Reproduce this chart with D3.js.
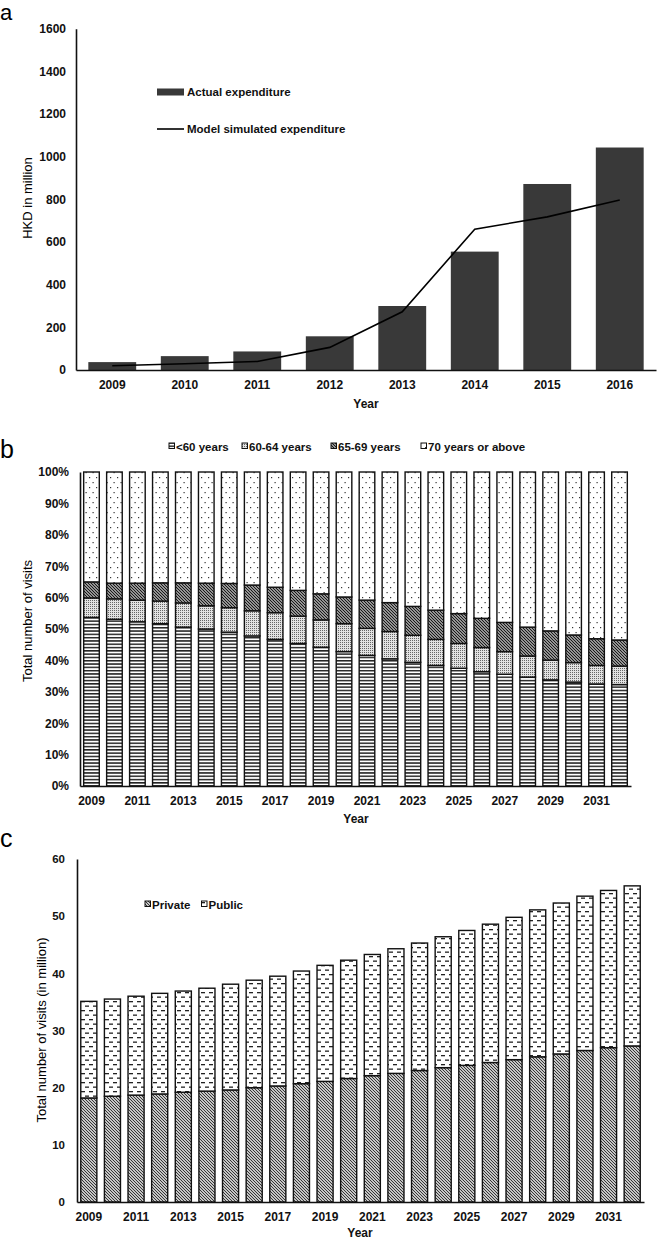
<!DOCTYPE html>
<html>
<head>
<meta charset="utf-8">
<script src="https://cdn.jsdelivr.net/npm/d3@7"></script>
<style>
  body { margin: 0; background: #fff; }
  svg { display: block; font-family: "Liberation Sans", Arial, sans-serif; }
  .tick text { font-weight: bold; fill: #111; }
  .lab { font-weight: bold; fill: #111; }
</style>
</head>
<body>
<div id="chart"></div>
<script>
// panel a
var yearsA = ["2009", "2010", "2011", "2012", "2013", "2014", "2015", "2016"];
var actualExp = [37, 65, 87, 158, 300, 555, 872, 1043];
var simulatedExp = [20, 29, 40, 106, 273, 660, 718, 797];
var ticksA = [0, 200, 400, 600, 800, 1000, 1200, 1400, 1600];

// panels b and c
var yearsBC = ["2009", "2010", "2011", "2012", "2013", "2014", "2015", "2016",
  "2017", "2018", "2019", "2020", "2021", "2022", "2023", "2024",
  "2025", "2026", "2027", "2028", "2029", "2030", "2031", "2032"];
var yearLabels = ["2009", "2011", "2013", "2015", "2017", "2019", "2021", "2023", "2025", "2027", "2029", "2031"];

var ageGroups = ["<60 years", "60-64 years", "65-69 years", "70 years or above"];
var under60 = [53.7, 53.1, 52.3, 51.7, 50.6, 50.0, 49.0, 47.8, 46.7, 45.4, 44.2, 42.8,
  41.6, 40.5, 39.4, 38.4, 37.5, 36.4, 35.6, 34.7, 33.8, 33.1, 32.5, 32.3];
var age60to64 = [6.2, 6.5, 6.9, 7.2, 7.7, 7.4, 7.8, 8.0, 8.5, 8.7, 8.7, 8.9,
  8.6, 8.7, 8.6, 8.3, 7.9, 7.7, 7.2, 6.7, 6.3, 6.2, 5.9, 5.9];
var age65to69 = [5.1, 5.0, 5.4, 5.8, 6.4, 7.2, 7.7, 8.2, 8.1, 8.2, 8.3, 8.5,
  9.0, 9.2, 9.2, 9.3, 9.5, 9.3, 9.3, 9.2, 9.3, 8.8, 8.5, 8.3];
var age70plus = [35.0, 35.4, 35.4, 35.3, 35.3, 35.4, 35.5, 36.0, 36.7, 37.7, 38.8, 39.8,
  40.8, 41.6, 42.8, 44.0, 45.1, 46.6, 47.9, 49.4, 50.6, 51.9, 53.1, 53.5];
var ticksB = [0, 10, 20, 30, 40, 50, 60, 70, 80, 90, 100];

var sectors = ["Private", "Public"];
var privateVisits = [18.2, 18.5, 18.7, 18.9, 19.2, 19.4, 19.6, 20.0, 20.3, 20.7, 21.1, 21.6,
  22.1, 22.5, 23.0, 23.5, 23.9, 24.4, 24.9, 25.4, 25.9, 26.5, 27.0, 27.3];
var publicVisits = [16.9, 17.0, 17.3, 17.6, 17.7, 18.0, 18.5, 18.8, 19.2, 19.7, 20.3, 20.7,
  21.2, 21.8, 22.3, 22.9, 23.6, 24.2, 24.9, 25.7, 26.4, 27.0, 27.5, 28.0];
var ticksC = [0, 10, 20, 30, 40, 50, 60];

var svg = d3.select("#chart").append("svg")
  .attr("width", 658)
  .attr("height", 1240);

// ---- fill patterns ----
var defs = svg.append("defs");

function pattern(id, w, h, bg) {
  var p = defs.append("pattern").attr("id", id)
    .attr("patternUnits", "userSpaceOnUse")
    .attr("width", w).attr("height", h);
  p.append("rect").attr("width", w).attr("height", h).attr("fill", bg || "#fff");
  return p;
}

var hl = pattern("hlines", 4, 3.3);
hl.append("rect").attr("y", 0).attr("width", 4).attr("height", 1.5).attr("fill", "#222");

var fd = pattern("finedots", 2, 2, "#e2e2e2");
fd.append("rect").attr("width", 1).attr("height", 1).attr("fill", "#666");

var dg = pattern("diag", 3, 3);
dg.append("path").attr("d", "M-1,-1 L4,4 M-1,2 L1,4 M2,-1 L4,1")
  .attr("stroke", "#1a1a1a").attr("stroke-width", 1.35);

var sd = pattern("sparsedots", 7, 10);
sd.append("rect").attr("x", 1.5).attr("y", 2).attr("width", 1.2).attr("height", 1.2).attr("fill", "#333");
sd.append("rect").attr("x", 5).attr("y", 7).attr("width", 1.2).attr("height", 1.2).attr("fill", "#333");

var dg2 = pattern("diag2", 3, 3);
dg2.append("path").attr("d", "M-1,-1 L4,4 M-1,2 L1,4 M2,-1 L4,1")
  .attr("stroke", "#2a2a2a").attr("stroke-width", 1.05);

var dash = pattern("dashes", 8, 9);
dash.append("rect").attr("x", 1).attr("y", 2).attr("width", 4).attr("height", 1.3).attr("fill", "#222");
dash.append("rect").attr("x", 5).attr("y", 6.5).attr("width", 3).attr("height", 1.3).attr("fill", "#222");
dash.append("rect").attr("x", 0).attr("y", 6.5).attr("width", 1).attr("height", 1.3).attr("fill", "#222");

function styleAxis(g, size) {
  g.select(".domain").attr("stroke", "#111").attr("stroke-width", 1.6);
  g.selectAll(".tick line").remove();
  g.selectAll(".tick text").style("font-size", size + "px");
}

// ================= panel a =================
var xa = d3.scaleBand().domain(yearsA).range([76, 656]).paddingInner(0.34).paddingOuter(0.17);
var ya = d3.scaleLinear().domain([0, 1600]).range([370, 28.7]);

svg.append("text").attr("x", 0).attr("y", 20).style("font-size", "22px").text("a");

svg.selectAll(".barA")
  .data(actualExp)
  .enter()
  .append("rect")
  .attr("x", function(d, i) { return xa(yearsA[i]); })
  .attr("y", function(d) { return ya(d); })
  .attr("width", xa.bandwidth())
  .attr("height", function(d) { return ya(0) - ya(d); })
  .attr("fill", "#393939");

var lineA = d3.line()
  .x(function(d, i) { return xa(yearsA[i]) + xa.bandwidth() / 2; })
  .y(function(d) { return ya(d); });

svg.append("path")
  .datum(simulatedExp)
  .attr("d", lineA)
  .attr("fill", "none")
  .attr("stroke", "#000")
  .attr("stroke-width", 1.6);

var gxa = svg.append("g").attr("transform", "translate(0,370)")
  .call(d3.axisBottom(xa).tickSize(0).tickSizeOuter(0).tickPadding(10));
styleAxis(gxa, 12);
var gya = svg.append("g").attr("transform", "translate(76,0)")
  .call(d3.axisLeft(ya).tickValues(ticksA).tickFormat(d3.format("d"))
    .tickSize(0).tickSizeOuter(0).tickPadding(10));
styleAxis(gya, 12);

svg.append("text").attr("class", "lab").attr("x", 366).attr("y", 408)
  .attr("text-anchor", "middle").style("font-size", "12px").text("Year");
svg.append("text")
  .attr("transform", "translate(32,198) rotate(-90)")
  .attr("text-anchor", "middle").style("font-size", "13px").text("HKD in million");

// legend a
svg.append("rect").attr("x", 157).attr("y", 88.5).attr("width", 27).attr("height", 7).attr("fill", "#393939");
svg.append("text").attr("class", "lab").attr("x", 187).attr("y", 96)
  .style("font-size", "11.5px").text("Actual expenditure");
svg.append("line").attr("x1", 157).attr("x2", 184).attr("y1", 129).attr("y2", 129)
  .attr("stroke", "#000").attr("stroke-width", 1.6);
svg.append("text").attr("class", "lab").attr("x", 187).attr("y", 133)
  .style("font-size", "11.5px").text("Model simulated expenditure");

// ================= panel b =================
var ageFills = ["url(#hlines)", "url(#finedots)", "url(#diag)", "url(#sparsedots)"];
var tableB = yearsBC.map(function(y, i) {
  return { year: y, "<60 years": under60[i], "60-64 years": age60to64[i],
    "65-69 years": age65to69[i], "70 years or above": age70plus[i] };
});
var stackB = d3.stack().keys(ageGroups)(tableB);

var xb = d3.scaleBand().domain(yearsBC).range([80, 631]).paddingInner(0.32).paddingOuter(0.16);
var yb = d3.scaleLinear().domain([0, 100]).range([786, 472]);

svg.append("text").attr("x", 0).attr("y", 458).style("font-size", "25px").text("b");

svg.append("g").selectAll("g")
  .data(stackB)
  .enter()
  .append("g")
  .attr("fill", function(d, i) { return ageFills[i]; })
  .selectAll("rect")
  .data(function(d) { return d; })
  .enter()
  .append("rect")
  .attr("x", function(d) { return xb(d.data.year); })
  .attr("y", function(d) { return yb(d[1]); })
  .attr("width", xb.bandwidth())
  .attr("height", function(d) { return yb(d[0]) - yb(d[1]); })
  .attr("stroke", "#111")
  .attr("stroke-width", 1.4);

var gxb = svg.append("g").attr("transform", "translate(0,786)")
  .call(d3.axisBottom(xb).tickValues(yearLabels).tickSize(0).tickSizeOuter(0).tickPadding(10));
styleAxis(gxb, 12);
var gyb = svg.append("g").attr("transform", "translate(80,0)")
  .call(d3.axisLeft(yb).tickValues(ticksB).tickFormat(function(d) { return d + "%"; })
    .tickSize(0).tickSizeOuter(0).tickPadding(11));
styleAxis(gyb, 12);

svg.append("text").attr("class", "lab").attr("x", 356).attr("y", 823)
  .attr("text-anchor", "middle").style("font-size", "12px").text("Year");
svg.append("text")
  .attr("transform", "translate(32,621) rotate(-90)")
  .attr("text-anchor", "middle").style("font-size", "13px").text("Total number of visits");

// legend b
var legB = [169, 242, 331, 421];
ageGroups.forEach(function(k, i) {
  svg.append("rect").attr("x", legB[i]).attr("y", 443).attr("width", 5.5).attr("height", 5.5)
    .attr("fill", ageFills[i]).attr("stroke", "#111").attr("stroke-width", 1);
  svg.append("text").attr("class", "lab").attr("x", legB[i] + 7).attr("y", 450.5)
    .style("font-size", "11.5px").text(k);
});

// ================= panel c =================
var sectorFills = ["url(#diag2)", "url(#dashes)"];
var tableC = yearsBC.map(function(y, i) {
  return { year: y, Private: privateVisits[i], Public: publicVisits[i] };
});
var stackC = d3.stack().keys(sectors)(tableC);

var xc = d3.scaleBand().domain(yearsBC).range([77, 644]).paddingInner(0.32).paddingOuter(0.16);
var yc = d3.scaleLinear().domain([0, 60]).range([1202, 859]);

svg.append("text").attr("x", 0).attr("y", 847).style("font-size", "25px").text("c");

svg.append("g").selectAll("g")
  .data(stackC)
  .enter()
  .append("g")
  .attr("fill", function(d, i) { return sectorFills[i]; })
  .selectAll("rect")
  .data(function(d) { return d; })
  .enter()
  .append("rect")
  .attr("x", function(d) { return xc(d.data.year); })
  .attr("y", function(d) { return yc(d[1]); })
  .attr("width", xc.bandwidth())
  .attr("height", function(d) { return yc(d[0]) - yc(d[1]); })
  .attr("stroke", "#111")
  .attr("stroke-width", 1.4);

var gxc = svg.append("g").attr("transform", "translate(0,1202)")
  .call(d3.axisBottom(xc).tickValues(yearLabels).tickSize(0).tickSizeOuter(0).tickPadding(10));
styleAxis(gxc, 12);
var gyc = svg.append("g").attr("transform", "translate(77,0)")
  .call(d3.axisLeft(yc).tickValues(ticksC).tickSize(0).tickSizeOuter(0).tickPadding(12));
styleAxis(gyc, 11.5);

svg.append("text").attr("class", "lab").attr("x", 360).attr("y", 1237)
  .attr("text-anchor", "middle").style("font-size", "12px").text("Year");
svg.append("text")
  .attr("transform", "translate(46,1030) rotate(-90)")
  .attr("text-anchor", "middle").style("font-size", "13px").text("Total number of visits (in million)");

// legend c
var legC = [145, 201.5];
sectors.forEach(function(k, i) {
  svg.append("rect").attr("x", legC[i]).attr("y", 901).attr("width", 5.5).attr("height", 5.5)
    .attr("fill", sectorFills[i]).attr("stroke", "#111").attr("stroke-width", 1);
  svg.append("text").attr("class", "lab").attr("x", legC[i] + 7).attr("y", 908.5)
    .style("font-size", "11.5px").text(k);
});
</script>
</body>
</html>
